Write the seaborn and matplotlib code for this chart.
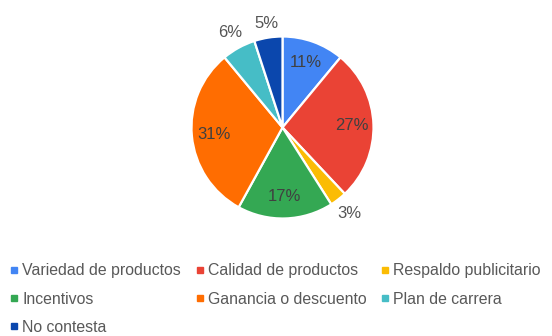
import matplotlib
matplotlib.use("Agg")
import matplotlib.pyplot as plt
import seaborn as sns
import numpy as np
from matplotlib.lines import Line2D

categories = ["Variedad de productos", "Calidad de productos", "Respaldo publicitario",
              "Incentivos", "Ganancia o descuento", "Plan de carrera", "No contesta"]
values = [11, 27, 3, 17, 31, 6, 5]
colors = ["#4285F4", "#EA4335", "#FBBC04", "#34A853", "#FF6D01", "#46BDC6", "#0B47AD"]

sns.set_theme(style="white")
plt.rcParams["font.family"] = ["Liberation Sans", "DejaVu Sans"]
palette = sns.color_palette(colors)

W, H = 552, 336
fig = plt.figure(figsize=(W / 100, H / 100), dpi=100)

R = 91.0
cx, cy = 282.5, 127.5
lim = 1.4
size = 2 * lim * R
ax = fig.add_axes([(cx - size / 2) / W, (H - cy - size / 2) / H, size / W, size / H])

res = ax.pie(
    values, colors=palette, startangle=90, counterclock=False,
    wedgeprops=dict(edgecolor="white", linewidth=1.6),
    autopct=lambda p: f"{p:.0f}%", pctdistance=0.76,
    textprops=dict(color="#404040", fontsize=12),
)
wedges, autotexts = res[0], res[2]

# small slices: label outside, nearest box edge ~5px beyond the rim
half_w, half_h = 12.0 / R, 7.0 / R
gap = 1.0 + 5.0 / R
for w, t, v in zip(wedges, autotexts, values):
    if v < 8:
        ang = np.deg2rad((w.theta1 + w.theta2) / 2)
        ux, uy = np.cos(ang), np.sin(ang)
        r = gap + half_w * abs(ux) + half_h * abs(uy)
        t.set_position((r * ux, r * uy))
        t.set_color("#555555")

ax.set_xlim(-lim, lim)
ax.set_ylim(-lim, lim)
ax.set_aspect("equal")
ax.axis("off")

handles = [Line2D([0], [0], marker="s", linestyle="none", markersize=3.7,
                  markerfacecolor=c, markeredgecolor=c) for c in colors]

fs = 11.4
fs_px = fs * 100 / 72
hl = 0.5
cols = [[0, 3, 6], [1, 4], [2, 5]]
marker_x = [14.0, 200.0, 384.5]
for idx, mx in zip(cols, marker_x):
    left = mx - hl * fs_px / 2
    fig.legend([handles[i] for i in idx], [categories[i] for i in idx],
               loc="upper left", bbox_to_anchor=(left / W, 1 - 263.5 / H),
               frameon=False, borderpad=0, borderaxespad=0,
               handlelength=hl, handletextpad=0.26, labelspacing=0.83,
               fontsize=fs, labelcolor="#595959")

fig.savefig("out.png", dpi=100)
